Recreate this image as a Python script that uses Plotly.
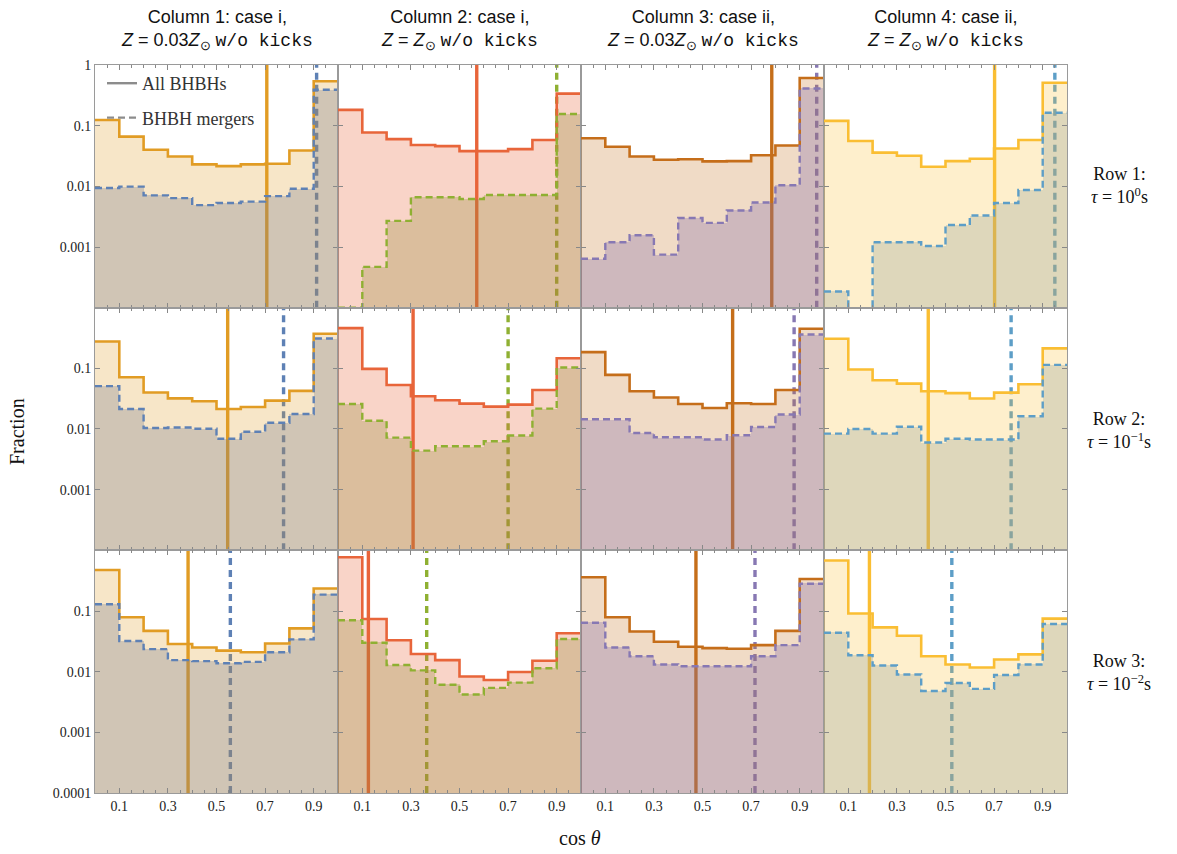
import plotly.graph_objects as go
from plotly.subplots import make_subplots

# cos(theta) binning: ten bins of width 0.1
bin_edges = [0.0, 0.1, 0.2, 0.3, 0.4, 0.5, 0.6, 0.7, 0.8, 0.9, 1.0]
bin_centers = [0.05, 0.15, 0.25, 0.35, 0.45, 0.55, 0.65, 0.75, 0.85, 0.95]
x_tick_vals = [0.1, 0.3, 0.5, 0.7, 0.9]
x_tick_text = ["0.1", "0.3", "0.5", "0.7", "0.9"]

# Row 1: tau = 1 s
all_r1_c1 = [0.124, 0.066, 0.040, 0.031, 0.023, 0.0215, 0.023, 0.0235, 0.039, 0.54]
mrg_r1_c1 = [0.0094, 0.0099, 0.0071, 0.0064, 0.0049, 0.0053, 0.0056, 0.0069, 0.0091, 0.39]
all_r1_c2 = [0.182, 0.077, 0.060, 0.048, 0.046, 0.038, 0.038, 0.041, 0.058, 0.337]
mrg_r1_c2 = [0.0001, 0.00047, 0.0027, 0.0066, 0.0066, 0.0062, 0.0072, 0.0072, 0.0072, 0.156]
all_r1_c3 = [0.062, 0.045, 0.031, 0.0275, 0.028, 0.0258, 0.026, 0.0325, 0.047, 0.61]
mrg_r1_c3 = [0.00064, 0.0012, 0.00156, 0.00075, 0.003, 0.0025, 0.004, 0.0054, 0.0104, 0.41]
all_r1_c4 = [0.12, 0.056, 0.036, 0.032, 0.021, 0.026, 0.0285, 0.042, 0.058, 0.51]
mrg_r1_c4 = [0.000185, 0.0, 0.0012, 0.0012, 0.00104, 0.0023, 0.0033, 0.0053, 0.0087, 0.163]

# Row 2: tau = 0.1 s
all_r2_c1 = [0.277, 0.0715, 0.040, 0.032, 0.0287, 0.0214, 0.0231, 0.0294, 0.0425, 0.372]
mrg_r2_c1 = [0.051, 0.0214, 0.0104, 0.0106, 0.0101, 0.0069, 0.009, 0.0127, 0.0177, 0.311]
all_r2_c2 = [0.46, 0.098, 0.053, 0.0347, 0.0298, 0.0262, 0.0234, 0.0252, 0.044, 0.147]
mrg_r2_c2 = [0.0259, 0.0137, 0.0072, 0.0044, 0.0052, 0.0052, 0.0063, 0.0078, 0.0217, 0.103]
all_r2_c3 = [0.185, 0.078, 0.042, 0.033, 0.0259, 0.0222, 0.0266, 0.0259, 0.044, 0.45]
mrg_r2_c3 = [0.0145, 0.0145, 0.0086, 0.0073, 0.0073, 0.0067, 0.0079, 0.0108, 0.0173, 0.362]
all_r2_c4 = [0.307, 0.0957, 0.0637, 0.056, 0.042, 0.039, 0.0318, 0.0398, 0.0547, 0.213]
mrg_r2_c4 = [0.0084, 0.010, 0.0084, 0.0109, 0.006, 0.0069, 0.0067, 0.0067, 0.0162, 0.114]

# Row 3: tau = 0.01 s
all_r3_c1 = [0.473, 0.079, 0.047, 0.0285, 0.025, 0.0222, 0.0209, 0.0292, 0.0517, 0.235]
mrg_r3_c1 = [0.129, 0.032, 0.0235, 0.0155, 0.0149, 0.0138, 0.0145, 0.0209, 0.034, 0.186]
all_r3_c2 = [0.77, 0.074, 0.033, 0.0196, 0.0155, 0.0083, 0.0073, 0.0099, 0.0151, 0.043]
mrg_r3_c2 = [0.0705, 0.030, 0.0129, 0.0105, 0.0061, 0.0042, 0.0054, 0.0066, 0.0114, 0.0346]
all_r3_c3 = [0.36, 0.079, 0.046, 0.0312, 0.0257, 0.0244, 0.0238, 0.0274, 0.047, 0.337]
mrg_r3_c3 = [0.064, 0.025, 0.0179, 0.0131, 0.0123, 0.0123, 0.0123, 0.0179, 0.0274, 0.282]
all_r3_c4 = [0.68, 0.091, 0.0537, 0.039, 0.018, 0.0131, 0.0117, 0.0159, 0.0193, 0.075]
mrg_r3_c4 = [0.0437, 0.0186, 0.0126, 0.009, 0.0048, 0.0065, 0.0052, 0.0088, 0.0131, 0.061]

# median cos(theta) per panel: (all BHBHs, BHBH mergers)
median_all_r1 = [0.707, 0.571, 0.785, 0.702]
median_mrg_r1 = [0.912, 0.900, 0.970, 0.950]
median_all_r2 = [0.546, 0.309, 0.624, 0.429]
median_mrg_r2 = [0.776, 0.700, 0.877, 0.770]
median_all_r3 = [0.383, 0.125, 0.473, 0.187]
median_mrg_r3 = [0.557, 0.365, 0.716, 0.526]

y_tick_vals_r1 = [1, 0.1, 0.01, 0.001]
y_tick_text_r1 = ["1", "0.1", "0.01", "0.001"]
y_tick_vals_r2 = [0.1, 0.01, 0.001]
y_tick_text_r2 = ["0.1", "0.01", "0.001"]
y_tick_vals_r3 = [0.1, 0.01, 0.001, 0.0001]
y_tick_text_r3 = ["0.1", "0.01", "0.001", "0.0001"]

MONO = "<span style='font-family:Liberation Mono'>w/o kicks</span>"
col_titles = [
    "Column 1: case i,<br><i>Z</i> = 0.03<i>Z</i><sub>⊙</sub> " + MONO,
    "Column 2: case i,<br><i>Z</i> = <i>Z</i><sub>⊙</sub> " + MONO,
    "Column 3: case ii,<br><i>Z</i> = 0.03<i>Z</i><sub>⊙</sub> " + MONO,
    "Column 4: case ii,<br><i>Z</i> = <i>Z</i><sub>⊙</sub> " + MONO,
]
row_titles = [
    "Row 1:<br><i>τ</i> = 10<sup>0</sup>s",
    "Row 2:<br><i>τ</i> = 10<sup>−1</sup>s",
    "Row 3:<br><i>τ</i> = 10<sup>−2</sup>s",
]

# per-column styling: (all line, all fill, merger line, merger fill)
col_styles = [
    ("#E19C24", "rgba(225,156,36,0.25)", "#5E81B5", "rgba(118,122,138,0.30)"),
    ("#E8653A", "rgba(232,101,58,0.28)", "#8FB032", "rgba(150,140,60,0.30)"),
    ("#C56E1A", "rgba(197,110,26,0.25)", "#8778B3", "rgba(135,112,170,0.32)"),
    ("#FABE33", "rgba(250,190,51,0.25)", "#5D9EC7", "rgba(150,160,150,0.30)"),
]

all_data = [
    [all_r1_c1, all_r1_c2, all_r1_c3, all_r1_c4],
    [all_r2_c1, all_r2_c2, all_r2_c3, all_r2_c4],
    [all_r3_c1, all_r3_c2, all_r3_c3, all_r3_c4],
]
mrg_data = [
    [mrg_r1_c1, mrg_r1_c2, mrg_r1_c3, mrg_r1_c4],
    [mrg_r2_c1, mrg_r2_c2, mrg_r2_c3, mrg_r2_c4],
    [mrg_r3_c1, mrg_r3_c2, mrg_r3_c3, mrg_r3_c4],
]
med_all = [median_all_r1, median_all_r2, median_all_r3]
med_mrg = [median_mrg_r1, median_mrg_r2, median_mrg_r3]
y_ticks = [(y_tick_vals_r1, y_tick_text_r1), (y_tick_vals_r2, y_tick_text_r2),
           (y_tick_vals_r3, y_tick_text_r3)]

SERIF = "Liberation Serif"
SANS = "Liberation Sans"
FLOOR = 1e-6  # empty bins are drawn down past the axis bottom

fig = make_subplots(rows=3, cols=4, horizontal_spacing=0, vertical_spacing=0)


def step_xy(vals):
    ys = [v if v > 0 else FLOOR for v in vals]
    return bin_edges[:-1] + [bin_edges[-1]], ys + [ys[-1]]


for r in range(3):
    for c in range(4):
        line_all, fill_all, line_mrg, fill_mrg = col_styles[c]
        a_vals = all_data[r][c]
        m_vals = mrg_data[r][c]
        fig.add_trace(go.Bar(x=bin_centers, y=a_vals, width=0.1,
                             marker=dict(color=fill_all, line=dict(width=0)),
                             showlegend=False, hoverinfo="skip"), row=r + 1, col=c + 1)
        fig.add_trace(go.Bar(x=bin_centers, y=m_vals, width=0.1,
                             marker=dict(color=fill_mrg, line=dict(width=0)),
                             showlegend=False, hoverinfo="skip"), row=r + 1, col=c + 1)
        sx, sy = step_xy(a_vals)
        fig.add_trace(go.Scatter(x=sx, y=sy, mode="lines", line_shape="hv",
                                 line=dict(color=line_all, width=2.6),
                                 showlegend=False, hoverinfo="skip"), row=r + 1, col=c + 1)
        sx, sy = step_xy(m_vals)
        fig.add_trace(go.Scatter(x=sx, y=sy, mode="lines", line_shape="hv",
                                 line=dict(color=line_mrg, width=2.4, dash="7px,4px"),
                                 showlegend=False, hoverinfo="skip"), row=r + 1, col=c + 1)

        idx = r * 4 + c + 1
        xr = "x" if idx == 1 else f"x{idx}"
        yr = "y domain" if idx == 1 else f"y{idx} domain"
        fig.add_shape(type="line", xref=xr, yref=yr, x0=med_all[r][c], x1=med_all[r][c],
                      y0=0, y1=1, layer="below", line=dict(color=line_all, width=3.4))
        fig.add_shape(type="line", xref=xr, yref=yr, x0=med_mrg[r][c], x1=med_mrg[r][c],
                      y0=0, y1=1, layer="below",
                      line=dict(color=line_mrg, width=3.4, dash="7px,5px"))

        fig.update_xaxes(row=r + 1, col=c + 1, range=[0, 1], tickvals=x_tick_vals,
                         ticktext=x_tick_text, showticklabels=(r == 2),
                         ticks="inside", ticklen=5, tickcolor="#888", mirror="ticks",
                         showline=True, linecolor="#9a9a9a", linewidth=1,
                         showgrid=False, zeroline=False,
                         minor=dict(tickvals=[0.05, 0.15, 0.2, 0.25, 0.35, 0.4, 0.45,
                                              0.55, 0.6, 0.65, 0.75, 0.8, 0.85, 0.95],
                                    ticks="inside", ticklen=3, tickcolor="#888"),
                         tickfont=dict(family=SERIF, size=14, color="#222"))
        tv, tt = y_ticks[r]
        fig.update_yaxes(row=r + 1, col=c + 1, type="log", range=[-4, 0],
                         tickvals=tv, ticktext=tt, showticklabels=(c == 0),
                         ticks="inside", ticklen=5, tickcolor="#888", mirror="ticks",
                         showline=True, linecolor="#9a9a9a", linewidth=1,
                         showgrid=False, zeroline=False,
                         tickfont=dict(family=SERIF, size=14, color="#222"))

# legend key in the first panel
fig.add_trace(go.Scatter(x=[None], y=[None], mode="lines", name="All BHBHs",
                         legendgroup="a", line=dict(color="#8c8c8c", width=2.4)),
              row=1, col=1)
fig.add_trace(go.Scatter(x=[None], y=[None], mode="lines", name="BHBH mergers",
                         legendgroup="b", line=dict(color="#8c8c8c", width=2.4, dash="7px,4px")),
              row=1, col=1)

W, H = 1177, 854
ML, MR, MT, MB = 95, 110, 65, 61
PW, PH = W - ML - MR, H - MT - MB


def px(xp):
    return (xp - ML) / PW


def py(yp):
    return 1 - (yp - MT) / PH


annotations = []
for c in range(4):
    annotations.append(dict(x=px(ML + PW / 4 * (c + 0.5)), y=py(30), xref="paper", yref="paper",
                            xanchor="center", yanchor="middle",
                            text=col_titles[c], showarrow=False, align="center",
                            font=dict(family=SANS, size=18, color="#111")))
row_centers = [186, 430, 672]
for r in range(3):
    annotations.append(dict(x=px(1119), y=py(row_centers[r]), xref="paper", yref="paper",
                            xanchor="center", yanchor="middle",
                            text=row_titles[r], showarrow=False, align="center",
                            font=dict(family=SERIF, size=18, color="#111")))
annotations.append(dict(x=px(17), y=py(432), xref="paper", yref="paper", text="Fraction",
                        xanchor="center", yanchor="middle", textangle=-90, showarrow=False,
                        font=dict(family=SERIF, size=20, color="#111")))
annotations.append(dict(x=px(580), y=py(838), xref="paper", yref="paper", text="cos <i>θ</i>",
                        xanchor="center", yanchor="middle",
                        showarrow=False, font=dict(family=SERIF, size=20, color="#111")))

fig.update_layout(
    width=W, height=H,
    margin=dict(l=ML, r=MR, t=MT, b=MB),
    paper_bgcolor="white", plot_bgcolor="white",
    barmode="overlay", bargap=0,
    showlegend=True,
    legend=dict(x=px(102), y=py(65), xanchor="left", yanchor="top",
                bgcolor="rgba(0,0,0,0)", traceorder="grouped", tracegroupgap=8,
                font=dict(family=SERIF, size=18, color="#333")),
    annotations=annotations,
)

fig.write_html("out.html")
